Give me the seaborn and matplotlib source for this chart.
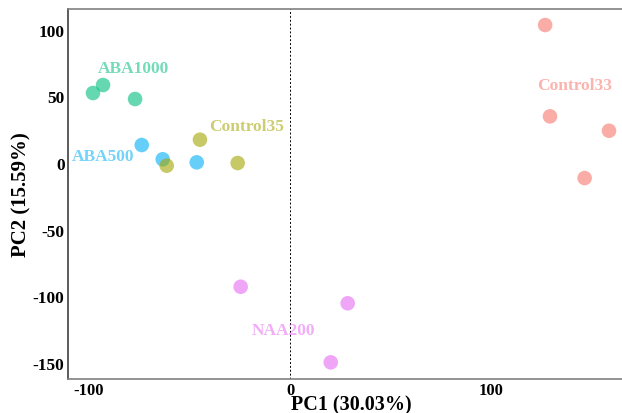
import matplotlib
matplotlib.use('Agg')
import matplotlib.pyplot as plt
import seaborn as sns
import pandas as pd

# PCA scores
groups = ['ABA1000'] * 3 + ['ABA500'] * 3 + ['Control35'] * 3 + ['Control33'] * 4 + ['NAA200'] * 3
pc1 = [-97.8, -92.8, -76.9,
       -73.6, -63.2, -46.3,
       -44.7, -61.2, -26.0,
       126.6, 129.0, 158.3, 146.2,
       -24.5, 28.6, 20.2]
pc2 = [52.5, 58.5, 48.0,
       13.5, 2.8, 0.5,
       17.5, -2.0, 0.0,
       103.5, 35.0, 24.2, -11.3,
       -92.8, -105.2, -149.5]

label_names = ['ABA1000', 'ABA500', 'Control35', 'Control33', 'NAA200']
label_x = [-77.7, -93.0, -21.5, 141.0, -3.3]
label_y = [71.0, 5.5, 28.0, 58.5, -125.0]

colors = {'ABA1000': '#00BF7D', 'ABA500': '#00B0F6', 'Control35': '#A3A500',
          'Control33': '#F8766D', 'NAA200': '#E76BF3'}

df = pd.DataFrame({'PC1': pc1, 'PC2': pc2, 'group': groups})

sns.set_style('white')
plt.rcParams['font.family'] = ['Liberation Serif', 'DejaVu Serif']
plt.rcParams['font.weight'] = 'bold'
plt.rcParams['axes.unicode_minus'] = False
plt.rcParams['text.color'] = 'black'
plt.rcParams['axes.labelcolor'] = 'black'
plt.rcParams['xtick.color'] = 'black'
plt.rcParams['ytick.color'] = 'black'

fig = plt.figure(figsize=(6.22, 4.14), dpi=100)
# the panel runs a little past the right edge, as in the original
ax = fig.add_axes([0.1093, 0.0821, 0.91, 0.8937])

ax.axvline(0, color='black', linestyle=(0, (2, 2)), linewidth=0.7)

sns.scatterplot(data=df, x='PC1', y='PC2', hue='group', palette=colors,
                s=110, alpha=0.6, edgecolor='none', legend=False, ax=ax)

for name, lx, ly in zip(label_names, label_x, label_y):
    ax.text(lx, ly, name, color=colors[name], alpha=0.55, ha='center', va='center',
            fontsize=12.5, fontweight='bold')

ax.set_xlim(-110.2, 170.7)
ax.set_ylim(-162, 115.5)
ax.set_xticks([-100, 0, 100])
ax.set_yticks([-150, -100, -50, 0, 50, 100])
ax.tick_params(axis='both', length=2.5, width=0.8, color='#555555', labelsize=12.5, pad=0)
ax.tick_params(axis='x', labelsize=12)
for lab in ax.get_xticklabels() + ax.get_yticklabels():
    lab.set_fontweight('bold')

ax.set_xlabel('PC1 (30.03%)', fontsize=14.5, fontweight='bold', labelpad=-3)
ax.set_ylabel('PC2 (15.59%)', fontsize=15, fontweight='bold', labelpad=1)

for side in ['left', 'bottom', 'top']:
    ax.spines[side].set_color('#808080')
    ax.spines[side].set_linewidth(1.2)
ax.spines['left'].set_color('#404040')
ax.spines['right'].set_visible(False)

fig.savefig('out.png', dpi=100)
